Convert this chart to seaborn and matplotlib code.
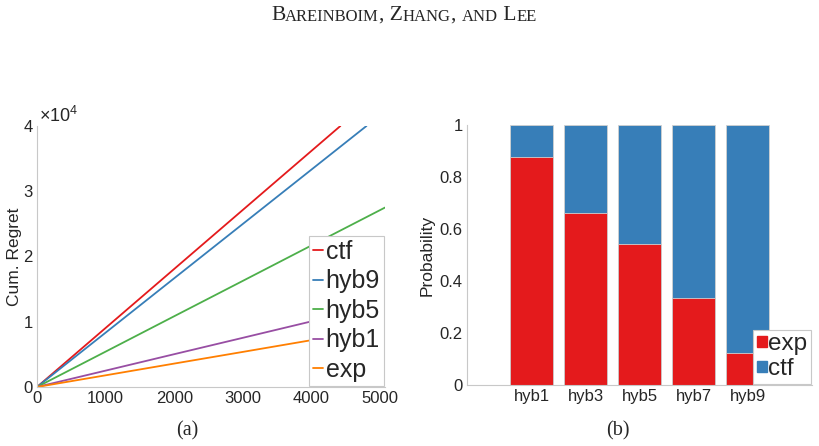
import numpy as np
import pandas as pd
import seaborn as sns
import matplotlib.pyplot as plt
from matplotlib.patches import Patch

# (a) cumulative regret
trials_ctf = [0, 1000, 2000, 3000, 4000, 4420]
regret_ctf = [0, 9050, 18100, 27150, 36200, 40000]
trials_hyb9 = [0, 1000, 2000, 3000, 4000, 4800]
regret_hyb9 = [0, 8330, 16670, 25000, 33330, 40000]
trials_hyb5 = [0, 1000, 2000, 3000, 4000, 5070]
regret_hyb5 = [0, 5420, 10850, 16270, 21700, 27500]
trials_hyb1 = [0, 1000, 2000, 3000, 4000, 5070]
regret_hyb1 = [0, 2510, 5030, 7540, 10060, 12750]
trials_exp = [0, 1000, 2000, 3000, 4000, 5070]
regret_exp = [0, 1790, 3590, 5380, 7180, 9100]

# (b) probability of choosing exp / ctf
arms = ["hyb1", "hyb3", "hyb5", "hyb7", "hyb9"]
p_exp = [0.878, 0.66, 0.542, 0.335, 0.122]
p_total = [1, 1, 1, 1, 1]

red, blue, green, purple, orange = "#e41a1c", "#377eb8", "#4daf4a", "#984ea3", "#ff7f00"

rows = []
for name, xs, ys in [("ctf", trials_ctf, regret_ctf), ("hyb9", trials_hyb9, regret_hyb9),
                     ("hyb5", trials_hyb5, regret_hyb5), ("hyb1", trials_hyb1, regret_hyb1),
                     ("exp", trials_exp, regret_exp)]:
    for x, y in zip(xs, ys):
        rows.append({"trial": x, "regret": y, "policy": name})
df = pd.DataFrame(rows)

sns.set_style("white")
plt.rcParams["font.family"] = ["Liberation Sans", "DejaVu Sans"]
plt.rcParams["mathtext.fontset"] = "custom"
plt.rcParams["mathtext.rm"] = "Liberation Sans"

fig = plt.figure(figsize=(8.2, 4.46), dpi=100)
ax1 = fig.add_axes([0.0451, 0.1323, 0.4244, 0.5852])
ax2 = fig.add_axes([0.5695, 0.1368, 0.4205, 0.5829])

grey_spine = "#c8c8c8"
tick_col = "#262626"
lab_size = 12

# --- (a)
sns.lineplot(data=df, x="trial", y="regret", hue="policy",
             palette={"ctf": red, "hyb9": blue, "hyb5": green, "hyb1": purple, "exp": orange},
             hue_order=["ctf", "hyb9", "hyb5", "hyb1", "exp"],
             linewidth=1.3, ax=ax1, legend=False)
ax1.set_xlim(0, 5070)
ax1.set_ylim(0, 40000)
ax1.set_xticks([0, 1000, 2000, 3000, 4000, 5000])
ax1.set_yticks([0, 10000, 20000, 30000, 40000])
ax1.set_yticklabels(["0", "1", "2", "3", "4"])
ax1.set_xlabel("")
ax1.set_ylabel("Cum. Regret", fontsize=12.5, color=tick_col, labelpad=1)
ax1.text(0.005, 1.0, r"$\times10^4$", transform=ax1.transAxes, fontsize=13,
         color=tick_col, va="bottom", ha="left")
leg_handles = [plt.Line2D([], [], color=c, lw=1.3) for c in [red, blue, green, purple, orange]]
leg1 = ax1.legend(leg_handles, ["ctf", "hyb9", "hyb5", "hyb1", "exp"], loc="lower right",
                  bbox_to_anchor=(1.0, 0.0), fontsize=18, handlelength=0.4,
                  handletextpad=0.1, labelspacing=0.22, borderpad=0.15,
                  borderaxespad=0.05, frameon=True, fancybox=False, framealpha=1)
leg1.get_frame().set_edgecolor(grey_spine)
leg1.get_frame().set_linewidth(0.8)

# --- (b)
sns.barplot(x=arms, y=p_total, color=blue, width=0.8, edgecolor="#d0d0d0",
            linewidth=0.6, ax=ax2, saturation=1)
sns.barplot(x=arms, y=p_exp, color=red, width=0.8, edgecolor="#d0d0d0",
            linewidth=0.6, ax=ax2, saturation=1)
ax2.set_xlim(-1.2, 5.19)
ax2.set_ylim(0, 1)
ax2.set_yticks([0, 0.2, 0.4, 0.6, 0.8, 1])
ax2.set_yticklabels(["0", "0.2", "0.4", "0.6", "0.8", "1"])
ax2.set_ylabel("Probability", fontsize=12.5, color=tick_col, labelpad=4)
leg2 = ax2.legend([Patch(color=red), Patch(color=blue)], ["exp", "ctf"],
                  loc="lower right", bbox_to_anchor=(1.0, 0.0), fontsize=17.5,
                  handlelength=0.4, handleheight=0.3, handletextpad=0.05,
                  labelspacing=0.12, borderpad=0.15, borderaxespad=0.05,
                  frameon=True, fancybox=False, framealpha=1)
leg2.get_frame().set_edgecolor(grey_spine)
leg2.get_frame().set_linewidth(0.8)

for ax in (ax1, ax2):
    sns.despine(ax=ax)
    for s in ("left", "bottom"):
        ax.spines[s].set_color(grey_spine)
        ax.spines[s].set_linewidth(0.8)
    ax.tick_params(direction="in", length=3, width=0.6, color="#999999",
                   labelsize=lab_size, labelcolor=tick_col, pad=3)
    ax.grid(False)

# captions
fig.text(187 / 820, 1 - 431 / 446, "(a)", fontsize=14.5, family="Liberation Serif",
         ha="center", va="center")
fig.text(618 / 820, 1 - 431 / 446, "(b)", fontsize=14.5, family="Liberation Serif",
         ha="center", va="center")

# running header in small caps
pieces = [("B", 15.5), ("AREINBOIM", 12), (", Z", 15.5), ("HANG", 12),
          (", ", 15.5), ("AND", 12), (" L", 15.5), ("EE", 12)]
prev = fig.text(271 / 820, 1 - 20 / 446, pieces[0][0], fontsize=pieces[0][1],
                family="Liberation Serif", ha="left", va="baseline")
for txt, size in pieces[1:]:
    prev = plt.annotate(txt, xy=(1, 0), xycoords=prev, fontsize=size,
                        family="Liberation Serif", ha="left", va="bottom",
                        annotation_clip=False)

fig.savefig("out.png", dpi=100)
